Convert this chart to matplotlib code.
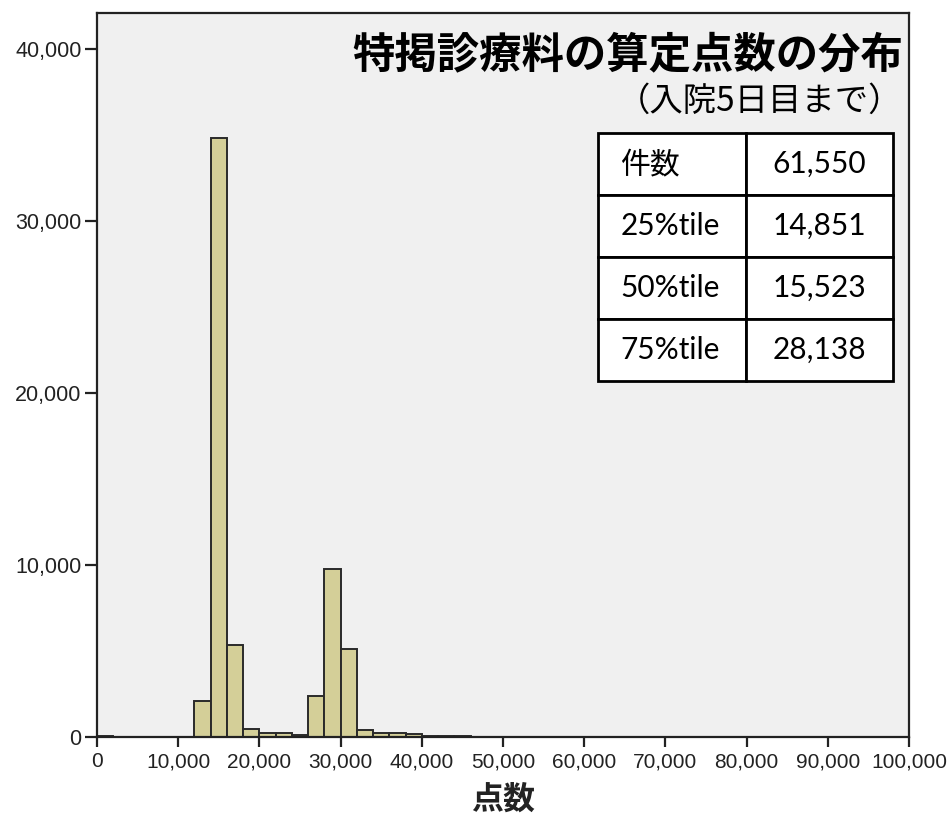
import numpy as np
import matplotlib.pyplot as plt
from matplotlib import font_manager
from matplotlib.ticker import FuncFormatter

# histogram bins (left edge, width 2,000 points) and counts
bin_left = [0, 12000, 14000, 16000, 18000, 20000, 22000, 24000, 26000, 28000,
            30000, 32000, 34000, 36000, 38000, 40000, 42000, 44000, 46000,
            48000, 50000, 52000, 54000, 56000, 58000, 60000, 62000, 64000,
            66000, 68000, 70000]
counts = [40, 2115, 34830, 5330, 480, 230, 250, 100, 2365, 9750,
          5100, 390, 230, 210, 180, 70, 40, 30, 25, 20, 20, 15, 15, 15, 15,
          20, 20, 20, 15, 15, 10]
BIN_WIDTH = 2000

table_labels = ['件数', '25%tile', '50%tile', '75%tile']
table_values = ['61,550', '14,851', '15,523', '28,138']

title = '特掲診療料の算定点数の分布'
subtitle = '（入院5日目まで）'
xlabel = '点数'

CJK = ['Noto Sans CJK JP', 'DejaVu Sans']

# narrow face for the x tick labels if there is one
installed = {f.name for f in font_manager.fontManager.ttflist}
if 'Liberation Sans Narrow' in installed:
    xtick_font, xtick_size = 'Liberation Sans Narrow', 18
elif 'DejaVu Sans Condensed' in installed:
    xtick_font, xtick_size = 'DejaVu Sans Condensed', 15
else:
    xtick_font, xtick_size = 'Liberation Sans', 15

W, H = 948, 815
fig = plt.figure(figsize=(W / 100, H / 100), dpi=100)
# axes box in pixels: x 97..909, y 13..737
ax = fig.add_axes([97 / W, 1 - 737 / H, (909 - 97) / W, (737 - 13) / H])
ax.set_facecolor('#f0f0f0')

ax.bar(bin_left, counts, width=BIN_WIDTH, align='edge',
       color='#d4cf98', edgecolor='#2a2a2a', linewidth=1.4)

ax.set_xlim(0, 100000)
ax.set_ylim(0, 42100)
ax.set_xticks(np.arange(0, 100001, 10000))
ax.set_yticks([0, 10000, 20000, 30000, 40000])
fmt = FuncFormatter(lambda v, p: f'{int(v):,}')
ax.xaxis.set_major_formatter(fmt)
ax.yaxis.set_major_formatter(fmt)

for s in ax.spines.values():
    s.set_linewidth(1.6)
    s.set_color('#222222')

ax.tick_params(axis='x', length=7, width=1.6, pad=4, labelsize=xtick_size,
               colors='#222222')
ax.tick_params(axis='y', length=9, width=1.6, pad=2, labelsize=15.5,
               colors='#222222')
for lab in ax.get_xticklabels():
    lab.set_family(xtick_font)
for lab in ax.get_yticklabels():
    lab.set_family('Liberation Sans')

# title and subtitle inside the plot area
fig.text(352 / W, 1 - 55 / H, title, family=CJK, fontsize=30.5,
         fontweight='bold', ha='left', va='center', color='black')
fig.text(902 / W, 1 - 101 / H, subtitle, family=CJK, fontsize=24,
         ha='right', va='center', color='black')

# summary table
ax_w, ax_h = 909 - 97, 737 - 13
tb = ax.table(cellText=[[l, v] for l, v in zip(table_labels, table_values)],
              cellLoc='center',
              bbox=[(598 - 97) / ax_w, (737 - 381) / ax_h,
                    (893 - 598) / ax_w, (381 - 133) / ax_h])
tb.auto_set_font_size(False)
for (r, c), cell in tb.get_celld().items():
    cell.set_facecolor('white')
    cell.set_edgecolor('black')
    cell.set_linewidth(2)
    txt = cell.get_text()
    txt.set_fontsize(21.5)
    txt.set_family(['Lato', 'Noto Sans CJK JP'])
    if c == 0:
        cell.PAD = 0.15
        txt.set_ha('left')
        cell._loc = 'left'

fig.text(503 / W, 1 - 800 / H, xlabel, family=CJK, fontsize=23,
         fontweight='bold', ha='center', va='center', color='#222222')

fig.savefig('out.png', dpi=100, facecolor='white')
